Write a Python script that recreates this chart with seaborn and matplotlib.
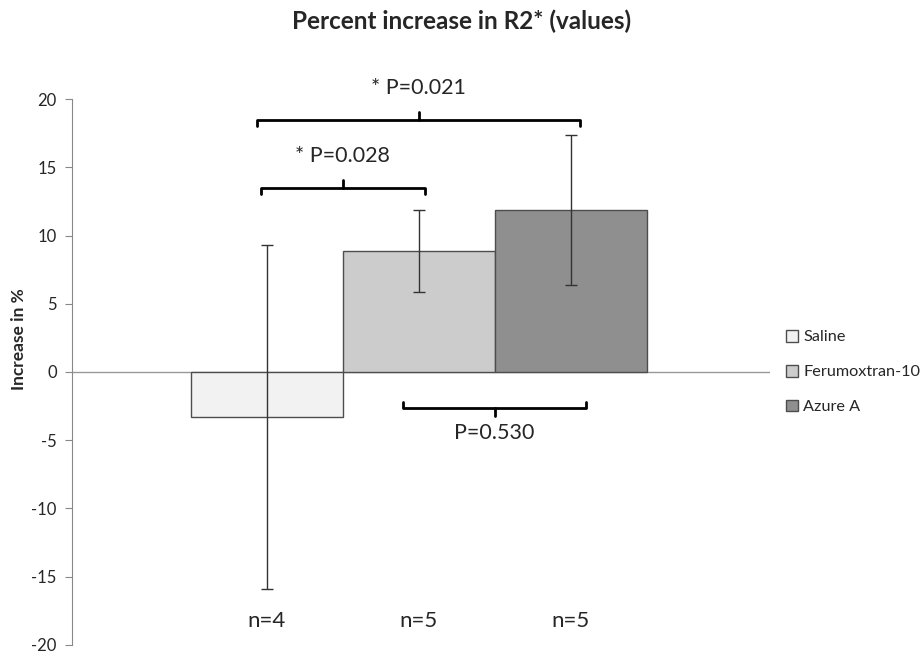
import pandas as pd
import seaborn as sns
import matplotlib.pyplot as plt

# values
groups = ['Saline', 'Ferumoxtran-10', 'Azure A']
means = [-3.3, 8.85, 11.9]
errors = [12.6, 3.0, 5.5]
n_labels = ['n=4', 'n=5', 'n=5']
colors = ['#f2f2f2', '#cccccc', '#8f8f8f']
y_ticks = [-20, -15, -10, -5, 0, 5, 10, 15, 20]

# significance brackets: (left, right, level, label, direction)
brackets = [
    (-0.06, 2.06, 18.5, '* P=0.021', 1),
    (-0.04, 1.04, 13.5, '* P=0.028', 1),
    (0.90, 2.10, -2.65, 'P=0.530', -1),
]

df = pd.DataFrame({'group': groups, 'mean': means, 'err': errors})

sns.set_style('white')
plt.rcParams['font.family'] = ['Lato', 'DejaVu Sans']
plt.rcParams['axes.unicode_minus'] = False

fig = plt.figure(figsize=(9.24, 6.56), dpi=100)
ax = fig.add_axes([0.078, 0.017, 0.755, 0.832])

sns.barplot(data=df, x='group', y='mean', hue='group', palette=colors,
            width=1.0, edgecolor='#4d4d4d', linewidth=1.0, ax=ax, legend=True)
ax.errorbar(range(len(groups)), df['mean'], yerr=df['err'], fmt='none',
            ecolor='#333333', elinewidth=1.0, capsize=4, capthick=1.0, zorder=5)

ax.axhline(0, color='#999999', lw=1.0, zorder=0)
ax.set_xlim(-1.28, 3.31)
ax.set_ylim(-20, 20)
ax.set_yticks(y_ticks)
ax.tick_params(axis='y', which='both', direction='out', length=5, color='#888888',
               labelsize=12, pad=6, left=True)
ax.set_xticks([])
ax.set_xlabel('')
ax.set_ylabel('Increase in %', fontsize=12.5, fontweight='bold')
ax.yaxis.set_label_coords(-0.064, 0.56)
for s in ['top', 'right', 'bottom']:
    ax.spines[s].set_visible(False)
ax.spines['left'].set_color('#888888')

# n labels under the bars
for i, lab in enumerate(n_labels):
    ax.text(i, -18.25, lab, ha='center', va='center', fontsize=16)

# brackets
for x0, x1, y, lab, d in brackets:
    h = 0.45
    xm = (x0 + x1) / 2
    ax.plot([x0, x0, x1, x1], [y - d * h, y, y, y - d * h], color='black', lw=2,
            clip_on=False, solid_joinstyle='round')
    ax.plot([xm, xm], [y, y + d * 0.55], color='black', lw=2, clip_on=False)
    ty = y + d * 2.1 if d > 0 else y - 1.8
    ax.text(xm, ty + (0.2 if d > 0 else 0), lab, ha='center', va='center', fontsize=15.5, clip_on=False)

ax.legend(loc='center left', bbox_to_anchor=(1.0, 0.5), frameon=False, fontsize=11.7,
          handlelength=0.75, handleheight=0.75, handletextpad=0.3, labelspacing=1.25,
          borderaxespad=0.6)

fig.suptitle('Percent increase in R2* (values)', fontsize=17.5, fontweight='bold',
             x=0.5, y=0.985)

fig.savefig('out.png', dpi=100)
